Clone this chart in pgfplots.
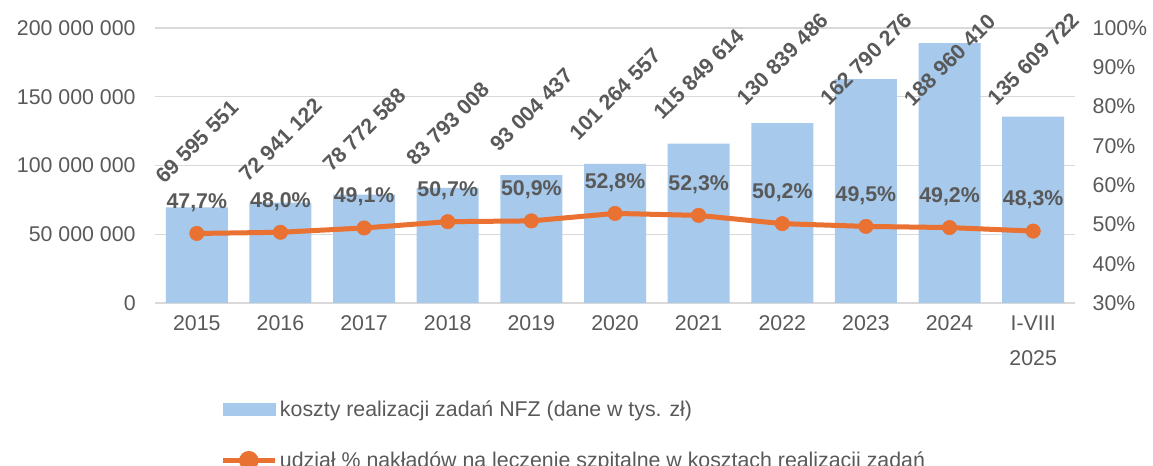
\documentclass[border=0pt]{standalone}
\usepackage{fontspec}
\setmainfont{Liberation Sans}
\usepackage{pgfplots}
\pgfplotsset{compat=1.18}
\definecolor{barblue}{HTML}{A6C9EC}
\definecolor{lineorange}{HTML}{E97132}
\definecolor{txtgray}{HTML}{595959}
\definecolor{gridgray}{HTML}{D9D9D9}

\begin{document}
\begin{tikzpicture}[font=\fontsize{16}{19}\selectfont]
\pgfplotsset{
  common/.style={
    scale only axis, width=690pt, height=206.25pt,
    xmin=-0.5, xmax=10.5,
    axis line style={draw=none},
    tick style={draw=none},
    tick label style={text=txtgray, font=\fontsize{16}{19}\selectfont},
    scaled y ticks=false,
    clip=false,
  }
}
% lewa os: koszty
\begin{axis}[common, name=ax,
  ymin=0, ymax=200000000,
  ytick={0,50000000,100000000,150000000,200000000},
  yticklabels={0,50 000 000,100 000 000,150 000 000,200 000 000},
  ymajorgrids, major grid style={draw=gridgray, line width=1.1pt},
  xtick={0,1,2,3,4,5,6,7,8,9,10},
  xticklabels={2015,2016,2017,2018,2019,2020,2021,2022,2023,2024,{I-VIII\\2025}},
  xticklabel style={align=center, font=\fontsize{16}{26}\selectfont},
  yticklabel shift=11pt, xticklabel shift=6pt,
]
\addplot[ybar, bar width=46.5pt, fill=barblue, draw=none] coordinates {
  (0,69595551) (1,72941122) (2,78772588) (3,83793008) (4,93004437)
  (5,101264557) (6,115849614) (7,130839486) (8,162790276) (9,188960410)
  (10,135609722)
};
% etykiety wartosci (obrocone)
\addplot[draw=none, mark=none, nodes near coords, point meta=explicit symbolic,
  every node near coord/.style={rotate=45, anchor=center, text=txtgray,
    font=\fontsize{16}{19}\selectfont\bfseries}] coordinates {
  (0,117100000) [69 595 551]
  (1,118500000) [72 941 122]
  (2,125800000) [78 772 588]
  (3,130200000) [83 793 008]
  (4,140400000) [93 004 437]
  (5,152000000) [101 264 557]
  (6,166500000) [115 849 614]
  (7,177500000) [130 839 486]
  (8,177500000) [162 790 276]
  (9,176700000) [188 960 410]
  (10,177500000) [135 609 722]
};
\end{axis}
% prawa os: udzial %
\begin{axis}[common,
  ymin=30, ymax=100,
  ytick={30,40,50,60,70,80,90,100},
  yticklabels={30\%,40\%,50\%,60\%,70\%,80\%,90\%,100\%},
  yticklabel pos=right, yticklabel shift=9.7pt,
  xtick=\empty,
  legend style={at={(0.0707,-0.345)}, anchor=north west, draw=none, fill=none,
    inner sep=0pt, row sep=21pt, text=txtgray,
    font=\fontsize{16}{19}\selectfont},
  legend cell align=left,
]
\addlegendimage{legend image code/.code={\fill[barblue] (0pt,-4.5pt) rectangle (39pt,4.5pt);}}
\addlegendentry{koszty realizacji zadań NFZ (dane w tys. zł)}
\addplot[lineorange, line width=3.75pt, mark=*, mark size=5.4pt,
  mark options={solid, fill=lineorange, draw=lineorange, line width=0.4pt},
  legend image code/.code={
    \draw[lineorange, line width=3.75pt] (0pt,0pt) -- (39pt,0pt);
    \fill[lineorange] (19.5pt,0pt) circle (5.4pt);},
  nodes near coords, point meta=explicit symbolic,
  every node near coord/.style={anchor=center, yshift=23.25pt, text=txtgray,
    font=\fontsize{16}{19}\selectfont\bfseries}] coordinates {
  (0,47.7) [47,7\%]
  (1,48.0) [48,0\%]
  (2,49.1) [49,1\%]
  (3,50.7) [50,7\%]
  (4,50.9) [50,9\%]
  (5,52.8) [52,8\%]
  (6,52.3) [52,3\%]
  (7,50.2) [50,2\%]
  (8,49.5) [49,5\%]
  (9,49.2) [49,2\%]
  (10,48.3) [48,3\%]
};
\addlegendentry{udział \% nakładów na leczenie szpitalne w kosztach realizacji zadań}
\end{axis}
\path (ax.south west) ++(-116.25pt,-122.25pt) coordinate (bl);
\path (ax.north east) ++(58.5pt,21pt) coordinate (tr);
\pgfresetboundingbox
\path[use as bounding box] (bl) rectangle (tr);
\end{tikzpicture}
\end{document}
